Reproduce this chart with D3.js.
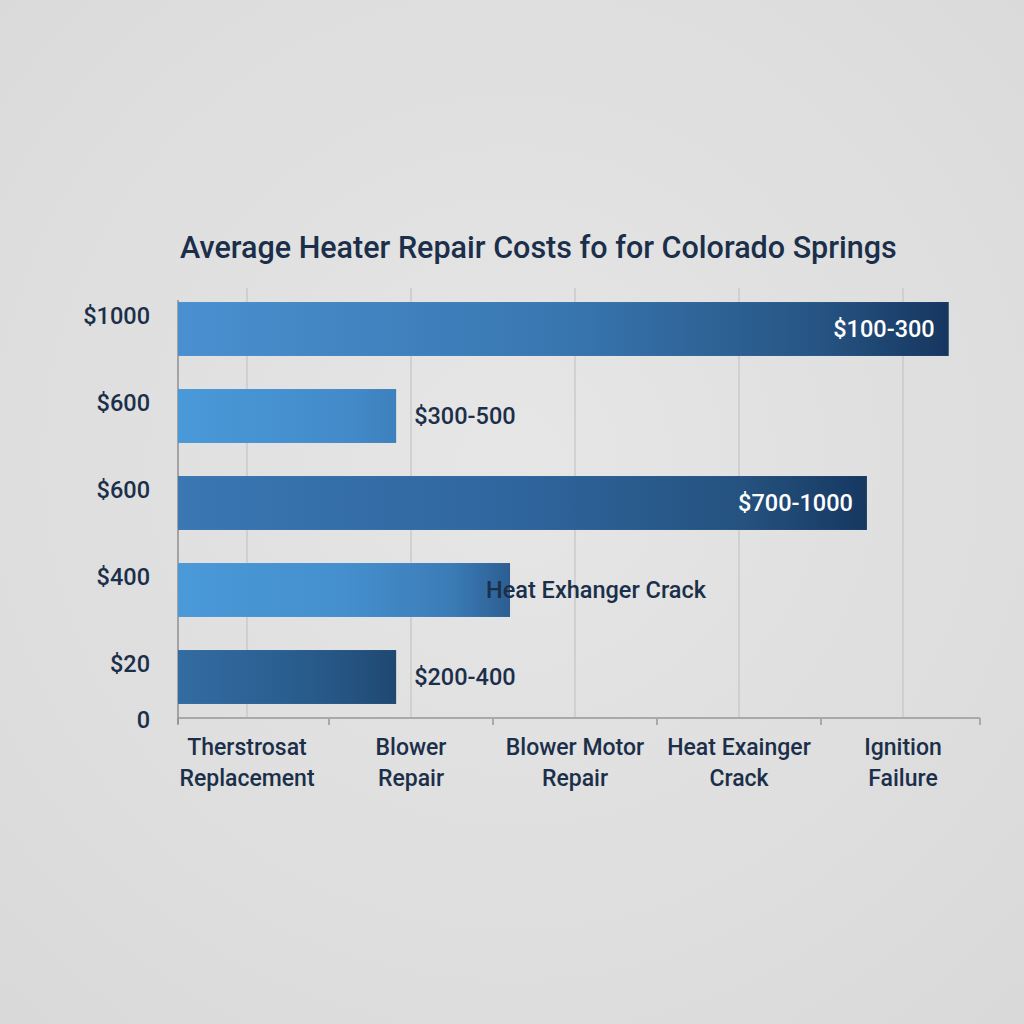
<!DOCTYPE html>
<html>
<head>
<meta charset="utf-8">
<script src="https://cdn.jsdelivr.net/npm/d3@7"></script>
<style>
  html, body { margin: 0; padding: 0; background: #e1e1e1; }
  svg { display: block; font-family: Roboto, "Noto Sans", sans-serif; }
</style>
</head>
<body>
<script>
const title = "Average Heater Repair Costs fo for Colorado Springs";
const categories = ["Therstrosat\nReplacement", "Blower\nRepair", "Blower Motor\nRepair", "Heat Exainger\nCrack", "Ignition\nFailure"];
const yTickLabels = ["$1000", "$600", "$600", "$400", "$20"];
const barValues = [961, 272, 859, 414, 272];
const barLabels = ["$100-300", "$300-500", "$700-1000", "Heat Exhanger Crack", "$200-400"];

// style per bar: gradient stops and where the label sits
const barColors = [
    ["#4a90d0", "#3876b0", "#275685", "#163660"],
    ["#4a99d8", "#4690cf", "#4289c7", "#3d80bd"],
    ["#3a77b3", "#2f659d", "#25527f", "#163861"],
    ["#4a99d8", "#458fce", "#3b7cb7", "#2c5e92"],
    ["#336ca2", "#2a5e90", "#24527f", "#1f4771"]
];
const labelInside = [true, false, true, false, false];

const width = 1024, height = 1024;
const margin = { top: 288, left: 178, right: 980, bottom: 718 };
const textColor = "#1b2f4a";

const svg = d3.select("body")
    .append("svg")
    .attr("width", width)
    .attr("height", height);

const defs = svg.append("defs");

const bg = defs.append("radialGradient").attr("id", "bg")
    .attr("cx", "50%").attr("cy", "45%").attr("r", "75%");
bg.append("stop").attr("offset", "0%").attr("stop-color", "#e6e6e6");
bg.append("stop").attr("offset", "100%").attr("stop-color", "#d9d9d9");

svg.append("rect")
    .attr("width", width).attr("height", height)
    .attr("fill", "url(#bg)");

barColors.forEach((c, i) => {
    const grad = defs.append("linearGradient").attr("id", "bar" + i)
        .attr("x1", "0%").attr("x2", "100%").attr("y1", "0%").attr("y2", "0%");
    [0, 0.5, 0.82, 1].forEach((o, j) => {
        grad.append("stop").attr("offset", o).attr("stop-color", c[j]);
    });
});

// scales
const xscale = d3.scaleLinear().domain([0, 1000]).range([margin.left, margin.right]);
const catScale = d3.scaleBand().domain(categories).range([165, 985]);
const yscale = d3.scaleBand()
    .domain(d3.range(barValues.length))
    .range([285.5, 720.5])
    .paddingInner(0.38)
    .paddingOuter(0.19);

const g = svg.append("g");

// vertical gridlines at category centres
g.selectAll(".grid")
    .data(categories)
    .join("line")
    .attr("class", "grid")
    .attr("x1", d => catScale(d) + catScale.bandwidth() / 2)
    .attr("x2", d => catScale(d) + catScale.bandwidth() / 2)
    .attr("y1", margin.top)
    .attr("y2", margin.bottom)
    .attr("stroke", "#c6c6c6")
    .attr("stroke-width", 1.3);

// x axis: ticks on band edges, labels at centres
g.append("line")
    .attr("x1", margin.left).attr("x2", margin.right)
    .attr("y1", margin.bottom).attr("y2", margin.bottom)
    .attr("stroke", "#a9a9a9").attr("stroke-width", 2);

const edges = catScale.domain().map(d => catScale(d)).concat([margin.right]);
edges[0] = margin.left;
g.selectAll(".xtick")
    .data(edges)
    .join("line")
    .attr("class", "xtick")
    .attr("x1", d => d).attr("x2", d => d)
    .attr("y1", margin.bottom).attr("y2", margin.bottom + 7)
    .attr("stroke", "#a9a9a9").attr("stroke-width", 2);

g.selectAll(".xlabel")
    .data(categories)
    .join("text")
    .attr("class", "xlabel")
    .attr("text-anchor", "middle")
    .attr("font-size", 23)
    .attr("font-weight", 500)
    .attr("fill", textColor)
    .each(function (d) {
        const t = d3.select(this);
        const cx = catScale(d) + catScale.bandwidth() / 2;
        d.split("\n").forEach((line, i) => {
            t.append("tspan")
                .attr("x", cx)
                .attr("y", 755 + i * 31)
                .text(line);
        });
    });

// y axis line
g.append("line")
    .attr("x1", margin.left).attr("x2", margin.left)
    .attr("y1", 300).attr("y2", margin.bottom + 6)
    .attr("stroke", "#8f8f8f").attr("stroke-width", 1.5);

// y tick labels
g.selectAll(".ylabel")
    .data(yTickLabels)
    .join("text")
    .attr("class", "ylabel")
    .attr("x", 150)
    .attr("y", (d, i) => yscale(i) + yscale.bandwidth() / 2 - 13)
    .attr("dy", "0.35em")
    .attr("text-anchor", "end")
    .attr("font-size", 23.5)
    .attr("font-weight", 500)
    .attr("fill", textColor)
    .text(d => d);

g.append("text")
    .attr("x", 150)
    .attr("y", margin.bottom + 2)
    .attr("dy", "0.35em")
    .attr("text-anchor", "end")
    .attr("font-size", 23.5)
    .attr("font-weight", 500)
    .attr("fill", textColor)
    .text("0");

// bars
g.selectAll(".bar")
    .data(barValues)
    .join("rect")
    .attr("class", "bar")
    .attr("x", xscale(0))
    .attr("y", (d, i) => yscale(i))
    .attr("height", yscale.bandwidth())
    .attr("width", d => xscale(d) - xscale(0))
    .attr("fill", (d, i) => `url(#bar${i})`);

// bar labels
g.selectAll(".barlabel")
    .data(barValues)
    .join("text")
    .attr("class", "barlabel")
    .attr("x", (d, i) => labelInside[i] ? xscale(d) - 14 : (i === 3 ? xscale(d) - 24 : xscale(d) + 18))
    .attr("y", (d, i) => yscale(i) + yscale.bandwidth() / 2)
    .attr("dy", "0.35em")
    .attr("text-anchor", (d, i) => labelInside[i] ? "end" : "start")
    .attr("font-size", 23.5)
    .attr("font-weight", 500)
    .attr("fill", (d, i) => labelInside[i] ? "#ffffff" : textColor)
    .text((d, i) => barLabels[i]);

// title
svg.append("text")
    .attr("x", 180)
    .attr("y", 258)
    .attr("font-size", 30.5)
    .attr("font-weight", 500)
    .attr("fill", textColor)
    .text(title);
</script>
</body>
</html>
